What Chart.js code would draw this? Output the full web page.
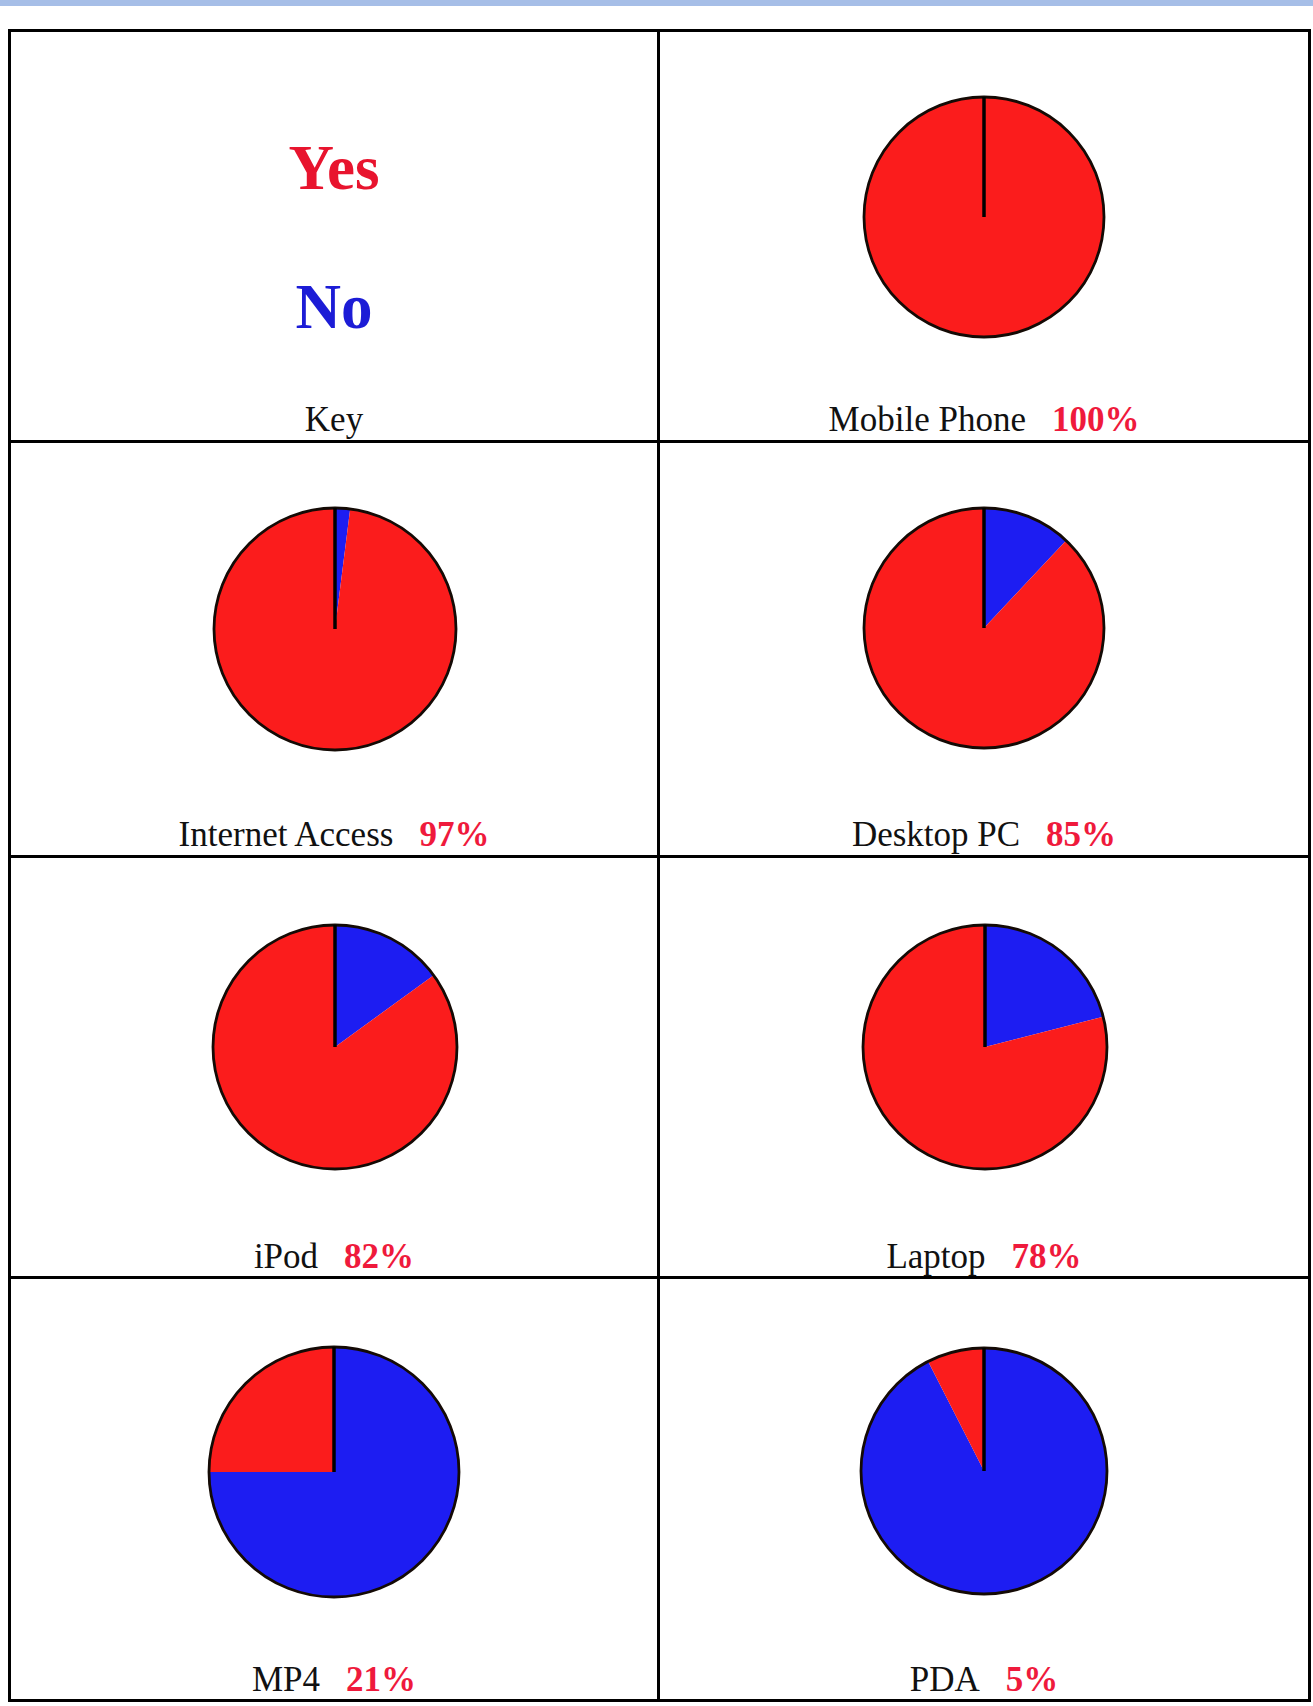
<!DOCTYPE html>
<html>
<head>
<meta charset="utf-8">
<script src="https://cdn.jsdelivr.net/npm/chart.js@4/dist/chart.umd.min.js"></script>
<style>
  html, body { margin: 0; padding: 0; background: #ffffff; }
  body { width: 1313px; height: 1706px; position: relative; overflow: hidden;
         font-family: "Liberation Serif", "DejaVu Serif", serif; }
  .band { position: absolute; left: 0; top: 0; width: 1313px; height: 6px; background: #a6bee7; }
  .hl { position: absolute; height: 3px; background: #000; }
  .vl { position: absolute; width: 3px; background: #000; }
  .lbl { position: absolute; text-align: center; font-size: 35px; line-height: 35px;
         color: #111; white-space: pre; }
  .pct { color: #ef1a3c; font-weight: bold; margin-left: 26px; }
  .key { position: absolute; text-align: center; font-size: 63px; line-height: 63px;
         font-weight: bold; }
  .pie { position: absolute; }
</style>
</head>
<body>
<div class="band"></div>
<div id="root"></div>
<script>
// ---------------- data ----------------
const categories = ['Mobile Phone', 'Internet Access', 'Desktop PC', 'iPod', 'Laptop', 'MP4', 'PDA'];
const yesPercentLabels = ['100%', '97%', '85%', '82%', '78%', '21%', '5%'];
// slice sizes as drawn in the pies
const yesShare = [100, 98, 88, 85, 79, 25, 7.5];
const noShare  = [0, 2, 12, 15, 21, 75, 92.5];
const keyLabels = ['Yes', 'No'];
const keyTitle = 'Key';

// ---------------- layout ----------------
const colors = { yes: '#fb1c1c', no: '#1d1df2', yesText: '#e8142e', noText: '#1c1cd6' };
const colX = [[11, 657], [660, 1308]];               // inner x-range of each column
const vLines = [8, 657, 1308];
const rowBorders = [29, 440, 855, 1276, 1699];       // y of horizontal lines
const labelBaselines = [431, 846, 1268, 1691];
// grid cell of each category, and pie centre / radius
const cellPos = [[0, 1], [1, 0], [1, 1], [2, 0], [2, 1], [3, 0], [3, 1]];
const pieGeom = [[984, 217, 120], [335, 629, 121], [984, 628, 120], [335, 1047, 122],
                 [985, 1047, 122], [334, 1472, 125], [984, 1471, 123]];

const root = document.getElementById('root');

// table lines
rowBorders.forEach(y => {
  const d = document.createElement('div');
  d.className = 'hl';
  d.style.left = vLines[0] + 'px'; d.style.width = (vLines[2] - vLines[0] + 3) + 'px'; d.style.top = y + 'px';
  root.appendChild(d);
});
vLines.forEach(x => {
  const d = document.createElement('div');
  d.className = 'vl';
  d.style.left = x + 'px'; d.style.top = rowBorders[0] + 'px';
  d.style.height = (rowBorders[4] - rowBorders[0] + 3) + 'px';
  root.appendChild(d);
});

function addLabel(col, row, nameText, pctText) {
  const d = document.createElement('div');
  d.className = 'lbl';
  d.style.left = colX[col][0] + 'px';
  d.style.width = (colX[col][1] - colX[col][0]) + 'px';
  d.style.top = (labelBaselines[row] - 29.3) + 'px';
  d.appendChild(document.createTextNode(nameText));
  if (pctText) {
    const s = document.createElement('span');
    s.className = 'pct';
    s.textContent = pctText;
    d.appendChild(s);
  }
  root.appendChild(d);
}

// key cell
const keyBaselines = [190, 329];
const keyColors = [colors.yesText, colors.noText];
keyLabels.forEach((t, i) => {
  const d = document.createElement('div');
  d.className = 'key';
  d.style.left = colX[0][0] + 'px';
  d.style.width = (colX[0][1] - colX[0][0]) + 'px';
  d.style.top = (keyBaselines[i] - 52.8) + 'px';
  d.style.color = keyColors[i];
  d.textContent = t;
  root.appendChild(d);
});
addLabel(0, 0, keyTitle, null);

// outline plugin: circle edge and the 12 o'clock radius
const outlinePlugin = {
  id: 'outline',
  afterDatasetsDraw(chart) {
    const arc = chart.getDatasetMeta(0).data[0];
    if (!arc) return;
    const { x, y, outerRadius } = arc.getProps(['x', 'y', 'outerRadius'], true);
    const ctx = chart.ctx;
    ctx.save();
    ctx.strokeStyle = '#140a05';
    ctx.lineWidth = 2.8;
    ctx.beginPath();
    ctx.arc(x, y, outerRadius, 0, Math.PI * 2);
    ctx.stroke();
    ctx.lineWidth = 3.5;
    ctx.strokeStyle = '#000';
    ctx.beginPath();
    ctx.moveTo(x, y);
    ctx.lineTo(x, y - outerRadius);
    ctx.stroke();
    ctx.restore();
  }
};

categories.forEach((name, i) => {
  const [row, col] = cellPos[i];
  const [cx, cy, r] = pieGeom[i];
  const pad = 5;
  const S = 2 * r + 2 * pad;
  const wrap = document.createElement('div');
  wrap.className = 'pie';
  wrap.style.left = (cx - S / 2) + 'px';
  wrap.style.top = (cy - S / 2) + 'px';
  const cv = document.createElement('canvas');
  cv.width = S; cv.height = S;
  cv.style.width = S + 'px'; cv.style.height = S + 'px';
  wrap.appendChild(cv);
  root.appendChild(wrap);

  new Chart(cv, {
    type: 'pie',
    data: {
      labels: ['No', 'Yes'],
      datasets: [{
        data: [noShare[i], yesShare[i]],
        backgroundColor: [colors.no, colors.yes],
        borderWidth: 0
      }]
    },
    options: {
      responsive: false,
      animation: false,
      rotation: 0,
      layout: { padding: pad },
      plugins: { legend: { display: false }, tooltip: { enabled: false } }
    },
    plugins: [outlinePlugin]
  });

  addLabel(col, row, name, yesPercentLabels[i]);
});
</script>
</body>
</html>
